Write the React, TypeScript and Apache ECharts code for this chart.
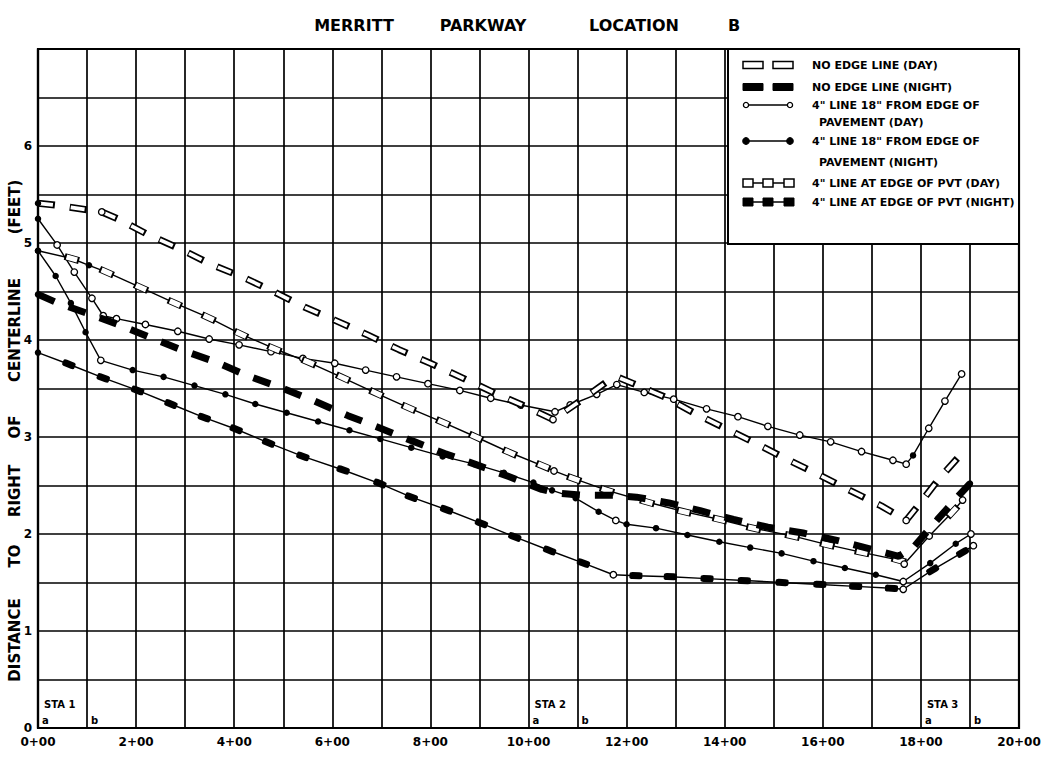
import React, { useEffect, useRef } from "react";
import * as echarts from "echarts";

type Pt = [number, number];

const xTickLabels = ["0+00", "2+00", "4+00", "6+00", "8+00", "10+00", "12+00", "14+00", "16+00", "18+00", "20+00"];
const yTickLabels = ["0", "1", "2", "3", "4", "5", "6"];

const seriesNames = [
  "NO EDGE LINE (DAY)",
  "NO EDGE LINE (NIGHT)",
  '4" LINE 18" FROM EDGE OF PAVEMENT (DAY)',
  '4" LINE 18" FROM EDGE OF PAVEMENT (NIGHT)',
  '4" LINE AT EDGE OF PVT (DAY)',
  '4" LINE AT EDGE OF PVT (NIGHT)',
];

const stationNames = ["STA 1", "STA 2", "STA 3"];
const stationA = [0, 10, 18];
const stationB = [1, 11, 19];

// NO EDGE LINE (DAY)
const noEdgeDay: Pt[] = [
  [0, 5.41], [0.36, 5.39], [1.04, 5.34], [1.3, 5.32], [1.62, 5.25], [2.23, 5.09], [2.89, 4.94], [3.53, 4.78],
  [4.21, 4.64], [4.84, 4.49], [5.43, 4.34], [6.07, 4.2], [6.73, 4.05], [7.36, 3.9], [8.0, 3.76], [8.65, 3.61],
  [9.28, 3.46], [9.96, 3.31], [10.5, 3.18], [11.05, 3.37], [11.6, 3.57], [11.85, 3.61], [12.14, 3.55],
  [12.79, 3.41], [13.37, 3.25], [14.01, 3.09], [14.65, 2.93], [15.27, 2.77], [15.92, 2.61], [16.55, 2.45],
  [17.19, 2.29], [17.7, 2.14], [17.94, 2.29], [18.37, 2.57], [18.78, 2.8], [18.9, 2.87],
];
const noEdgeDayHollow = [3, 18, 31];

// NO EDGE LINE (NIGHT)
const noEdgeNight: Pt[] = [
  [0, 4.47], [0.36, 4.39], [1.03, 4.27], [1.69, 4.15], [2.37, 4.01], [3.02, 3.88], [3.64, 3.77], [4.28, 3.63],
  [5.0, 3.5], [5.64, 3.37], [6.32, 3.22], [6.98, 3.09], [7.63, 2.96], [8.29, 2.83], [8.96, 2.71], [9.61, 2.59],
  [10.27, 2.46], [10.6, 2.42], [11.07, 2.4], [11.72, 2.4], [12.2, 2.38], [12.86, 2.32], [13.5, 2.24],
  [14.18, 2.15], [14.88, 2.07], [15.6, 2.01], [16.24, 1.94], [16.94, 1.85], [17.55, 1.77], [17.86, 1.87],
  [18.34, 2.15], [18.78, 2.4], [19.0, 2.52],
];

// 4" LINE 18" FROM EDGE OF PAVEMENT (DAY)
const line18Day: Pt[] = [
  [0, 5.25], [0.39, 4.98], [0.74, 4.7], [1.1, 4.43], [1.33, 4.25], [1.6, 4.22], [2.19, 4.16], [2.85, 4.09],
  [3.49, 4.01], [4.1, 3.95], [4.75, 3.88], [5.4, 3.81], [6.05, 3.76], [6.68, 3.69], [7.31, 3.62], [7.95, 3.55],
  [8.6, 3.48], [9.23, 3.4], [9.84, 3.33], [10.54, 3.26], [10.85, 3.33], [11.39, 3.44], [11.8, 3.54],
  [12.36, 3.46], [12.96, 3.39], [13.63, 3.29], [14.27, 3.21], [14.88, 3.11], [15.53, 3.02], [16.16, 2.95],
  [16.79, 2.85], [17.43, 2.76], [17.7, 2.72], [17.84, 2.81], [18.16, 3.09], [18.49, 3.37], [18.83, 3.65],
];
const line18DayFilled = [0, 33];

// 4" LINE 18" FROM EDGE OF PAVEMENT (NIGHT)
const line18Night: Pt[] = [
  [0, 4.92], [0.36, 4.66], [0.67, 4.38], [0.97, 4.08], [1.28, 3.79], [1.93, 3.69], [2.56, 3.62], [3.19, 3.53],
  [3.82, 3.44], [4.43, 3.34], [5.07, 3.25], [5.71, 3.16], [6.35, 3.07], [6.98, 2.98], [7.61, 2.89], [8.25, 2.8],
  [8.9, 2.72], [9.5, 2.63], [10.1, 2.53], [10.48, 2.45], [10.96, 2.37], [11.43, 2.23], [11.78, 2.14],
  [12.0, 2.1], [12.6, 2.06], [13.24, 1.99], [13.89, 1.92], [14.52, 1.86], [15.16, 1.8], [15.81, 1.72],
  [16.45, 1.65], [17.08, 1.58], [17.64, 1.51], [18.19, 1.7], [18.71, 1.9], [19.02, 2.0],
];
const line18NightHollow = [4, 22, 32, 35];

// 4" LINE AT EDGE OF PVT (DAY)
const edgeDay: Pt[] = [
  [0, 4.92], [0.69, 4.84], [1.04, 4.77], [1.4, 4.7], [2.1, 4.54], [2.79, 4.38], [3.48, 4.23], [4.14, 4.06],
  [4.82, 3.91], [5.52, 3.77], [6.22, 3.61], [6.9, 3.45], [7.56, 3.3], [8.26, 3.15], [8.93, 3.0], [9.62, 2.84],
  [10.3, 2.7], [10.52, 2.65], [10.93, 2.57], [11.6, 2.45], [12.42, 2.33], [13.17, 2.23], [13.9, 2.15],
  [14.59, 2.06], [15.38, 1.98], [16.09, 1.89], [16.8, 1.81], [17.55, 1.73], [17.66, 1.69], [18.17, 1.98],
  [18.65, 2.23], [18.85, 2.35],
];
const edgeDayFilled = [0, 2];
const edgeDayHollow = [17, 28, 29, 31];

// 4" LINE AT EDGE OF PVT (NIGHT)
const edgeNight: Pt[] = [
  [0, 3.87], [0.63, 3.75], [1.33, 3.61], [2.03, 3.48], [2.71, 3.34], [3.39, 3.2], [4.04, 3.08], [4.7, 2.94],
  [5.4, 2.8], [6.22, 2.66], [6.97, 2.52], [7.61, 2.38], [8.33, 2.25], [9.04, 2.11], [9.72, 1.97], [10.43, 1.83],
  [11.12, 1.7], [11.73, 1.58], [12.19, 1.57], [12.89, 1.56], [13.64, 1.54], [14.4, 1.52], [15.17, 1.5],
  [15.94, 1.48], [16.67, 1.46], [17.4, 1.44], [17.64, 1.43], [18.24, 1.63], [18.85, 1.81], [19.07, 1.88],
];
const edgeNightFilled = [0];
const edgeNightHollow = [17, 26, 29];

const W = 1059;
const H = 759;
const GL = 38;
const GR = 40;
const GT = 49;
const GB = 31;
const X_MAX = 20;
const Y_MAX = 7;
const PX_X = (W - GL - GR) / X_MAX;
const PX_Y = (H - GT - GB) / Y_MAX;

const FONT = "DejaVu Sans";
const INK = "#000";

function angleAt(data: Pt[], i: number): number {
  const a = data[Math.max(0, i - 1)];
  const b = data[Math.min(data.length - 1, i + 1)];
  return (Math.atan2((b[1] - a[1]) * PX_Y, (b[0] - a[0]) * PX_X) * 180) / Math.PI;
}

const filledDot = (p: Pt) => ({ value: p, symbol: "circle", symbolSize: 6.5, itemStyle: { color: INK, borderWidth: 0 } });
const hollowDot = (p: Pt) => ({
  value: p,
  symbol: "circle",
  symbolSize: 6.5,
  itemStyle: { color: "#fff", borderColor: INK, borderWidth: 1.3 },
});

function App() {
  const ref = useRef<HTMLDivElement>(null);

  useEffect(() => {
    if (!ref.current) return;
    const chart = echarts.init(ref.current, undefined, { renderer: "svg" });

    const noEdgeDayMarks = noEdgeDay.map((p, i) =>
      i === 0 ? filledDot(p) : noEdgeDayHollow.includes(i) ? hollowDot(p) : { value: p, symbol: "none" }
    );
    const noEdgeNightMarks = noEdgeNight.map((p, i) =>
      i === 0 || i === noEdgeNight.length - 1 ? filledDot(p) : { value: p, symbol: "none" }
    );
    const line18DayItems = line18Day.map((p, i) => (line18DayFilled.includes(i) ? filledDot(p) : hollowDot(p)));
    const line18NightItems = line18Night.map((p, i) => (line18NightHollow.includes(i) ? hollowDot(p) : filledDot(p)));
    const edgeDayItems = edgeDay.map((p, i) => {
      if (edgeDayFilled.includes(i)) return filledDot(p);
      if (edgeDayHollow.includes(i)) return hollowDot(p);
      return {
        value: p,
        symbol: "rect",
        symbolSize: [13, 6],
        symbolRotate: angleAt(edgeDay, i),
        itemStyle: { color: "#fff", borderColor: INK, borderWidth: 1.3 },
      };
    });
    const edgeNightItems = edgeNight.map((p, i) => {
      if (edgeNightFilled.includes(i)) return filledDot(p);
      if (edgeNightHollow.includes(i)) return hollowDot(p);
      return {
        value: p,
        symbol: "roundRect",
        symbolSize: [13, 7],
        symbolRotate: angleAt(edgeNight, i),
        itemStyle: { color: INK, borderWidth: 0 },
      };
    });

    const thin = (name: string, data: any[], z: number) => ({
      type: "line",
      name,
      data,
      z,
      silent: true,
      clip: false,
      symbol: "circle",
      showSymbol: true,
      showAllSymbol: true,
      lineStyle: { color: INK, width: 1.4 },
      itemStyle: { color: INK },
      emphasis: { disabled: true },
    });

    const txt = (text: string, x: number, y: number, size: number, extra: any = {}) => ({
      type: "text",
      x,
      y,
      z: 101,
      silent: true,
      style: {
        text,
        fill: INK,
        fontFamily: FONT,
        fontWeight: "bold",
        fontSize: size,
        textAlign: "left",
        textVerticalAlign: "middle",
        ...extra,
      },
    });

    const hollowRect = (x: number, y: number, w: number, h: number) => ({
      type: "rect",
      z: 101,
      shape: { x, y, width: w, height: h },
      style: { fill: "#fff", stroke: INK, lineWidth: 1.5 },
    });
    const fillRect = (x: number, y: number, w: number, h: number) => ({
      type: "rect",
      z: 101,
      shape: { x, y, width: w, height: h },
      style: { fill: INK, stroke: INK, lineWidth: 1 },
    });
    const hline = (x1: number, x2: number, y: number) => ({
      type: "line",
      z: 101,
      shape: { x1, y1: y, x2, y2: y },
      style: { stroke: INK, lineWidth: 1.4 },
    });
    const dot = (x: number, y: number, hollow: boolean) => ({
      type: "circle",
      z: 102,
      shape: { cx: x, cy: y, r: hollow ? 2.6 : 3.2 },
      style: { fill: hollow ? "#fff" : INK, stroke: INK, lineWidth: 1.3 },
    });

    const yWords = ["DISTANCE", "TO", "RIGHT", "OF", "CENTERLINE", "(FEET)"];
    const yWordCenters = [640, 556, 491, 427, 330, 207];

    const graphic: any[] = [
      // title
      txt("MERRITT", 354, 25, 16, { textAlign: "center" }),
      txt("PARKWAY", 483, 25, 16, { textAlign: "center" }),
      txt("LOCATION", 634, 25, 16, { textAlign: "center" }),
      txt("B", 734, 25, 16, { textAlign: "center" }),
      // y axis title
      ...yWords.map((w, i) => ({
        type: "text",
        x: 15,
        y: yWordCenters[i],
        rotation: Math.PI / 2,
        z: 101,
        silent: true,
        style: {
          text: w,
          fill: INK,
          fontFamily: FONT,
          fontWeight: "bold",
          fontSize: 15,
          textAlign: "center",
          textVerticalAlign: "middle",
        },
      })),
      // legend box
      {
        type: "rect",
        z: 100,
        shape: { x: 728, y: GT, width: W - GR - 728, height: 244 - GT },
        style: { fill: "#fff", stroke: INK, lineWidth: 2 },
      },
      hollowRect(743, 61.5, 20, 7),
      hollowRect(773, 61.5, 20, 7),
      txt(seriesNames[0], 812, 65, 11),
      fillRect(743, 83.5, 20, 7),
      fillRect(773, 83.5, 20, 7),
      txt(seriesNames[1], 812, 87, 11),
      hline(746, 790, 105),
      dot(746, 105, true),
      dot(790, 105, true),
      txt('4" LINE 18" FROM EDGE OF', 812, 105, 11),
      txt("PAVEMENT (DAY)", 819, 122, 11),
      hline(746, 790, 141),
      dot(746, 141, false),
      dot(790, 141, false),
      txt('4" LINE 18" FROM EDGE OF', 812, 141, 11),
      txt("PAVEMENT (NIGHT)", 819, 162, 11),
      hline(748, 790, 183),
      hollowRect(743, 179, 10, 8),
      hollowRect(763, 179, 10, 8),
      hollowRect(784, 179, 10, 8),
      txt(seriesNames[4], 812, 183, 11),
      hline(748, 790, 202),
      fillRect(743, 198, 10, 8),
      fillRect(763, 198, 10, 8),
      fillRect(784, 198, 10, 8),
      txt(seriesNames[5], 812, 202, 11),
    ];

    const stationLabel = (size: number) => ({
      show: true,
      position: "right",
      color: INK,
      opacity: 1,
      fontFamily: FONT,
      fontWeight: "bold",
      fontSize: size,
      formatter: (p: any) => p.name,
    });

    const option: any = {
      animation: false,
      backgroundColor: "#fff",
      grid: {
        left: GL,
        right: GR,
        top: GT,
        bottom: GB,
        show: true,
        borderColor: INK,
        borderWidth: 2.2,
        backgroundColor: "transparent",
      },
      xAxis: {
        type: "value",
        min: 0,
        max: X_MAX,
        interval: 1,
        axisLine: { show: true, onZero: false, lineStyle: { color: INK, width: 2.2 } },
        axisTick: { show: false },
        splitLine: { show: true, lineStyle: { color: INK, width: 1.7 } },
        axisLabel: {
          color: INK,
          fontFamily: FONT,
          fontWeight: "bold",
          fontSize: 12,
          margin: 8,
          formatter: (v: number) => (v % 2 === 0 ? xTickLabels[v / 2] : ""),
        },
      },
      yAxis: {
        type: "value",
        min: 0,
        max: Y_MAX,
        interval: 0.5,
        axisLine: { show: true, onZero: false, lineStyle: { color: INK, width: 2.2 } },
        axisTick: { show: false },
        splitLine: { show: true, lineStyle: { color: INK, width: 1.7 } },
        axisLabel: {
          color: INK,
          fontFamily: FONT,
          fontWeight: "bold",
          fontSize: 12,
          margin: 6,
          formatter: (v: number) => (Number.isInteger(v) && v < yTickLabels.length ? yTickLabels[v] : ""),
        },
      },
      graphic,
      series: [
        thin(seriesNames[2], line18DayItems, 3),
        thin(seriesNames[3], line18NightItems, 3),
        thin(seriesNames[4], edgeDayItems, 3),
        thin(seriesNames[5], edgeNightItems, 3),
        {
          type: "line",
          name: seriesNames[1],
          data: noEdgeNightMarks,
          z: 4,
          silent: true,
          clip: false,
          symbol: "circle",
          showSymbol: true,
          showAllSymbol: true,
          lineStyle: { color: INK, width: 7, type: [18, 15], cap: "butt" },
          itemStyle: { color: INK },
          emphasis: { disabled: true },
        },
        {
          type: "line",
          name: seriesNames[0],
          data: noEdgeDay,
          z: 5,
          silent: true,
          clip: false,
          symbol: "none",
          lineStyle: { color: INK, width: 7, type: [17, 15], cap: "butt" },
          emphasis: { disabled: true },
        },
        {
          type: "line",
          name: seriesNames[0] + " ",
          data: noEdgeDayMarks,
          z: 6,
          silent: true,
          clip: false,
          symbol: "circle",
          showSymbol: true,
          showAllSymbol: true,
          lineStyle: { color: "#fff", width: 3.6, type: [14, 18], dashOffset: -1.5, cap: "butt" },
          itemStyle: { color: INK },
          emphasis: { disabled: true },
        },
        {
          type: "scatter",
          name: "stations",
          z: 7,
          silent: true,
          symbolSize: 0.01,
          itemStyle: { color: INK },
          label: { ...stationLabel(10), distance: 6 },
          data: stationA.map((x, i) => ({ value: [x, 0.24], name: stationNames[i] })),
        },
        {
          type: "scatter",
          name: "station ends",
          z: 7,
          silent: true,
          symbolSize: 0.01,
          itemStyle: { color: INK },
          label: { ...stationLabel(10), distance: 4 },
          data: [
            ...stationA.map((x) => ({ value: [x, 0.075], name: "a" })),
            ...stationB.map((x) => ({ value: [x, 0.075], name: "b" })),
          ],
        },
      ],
    };

    chart.setOption(option);
    return () => chart.dispose();
  }, []);

  return (
    <div
      ref={ref}
      style={{ position: "fixed", left: 0, top: 0, width: W, height: H, background: "#fff" }}
    />
  );
}

export default App;
